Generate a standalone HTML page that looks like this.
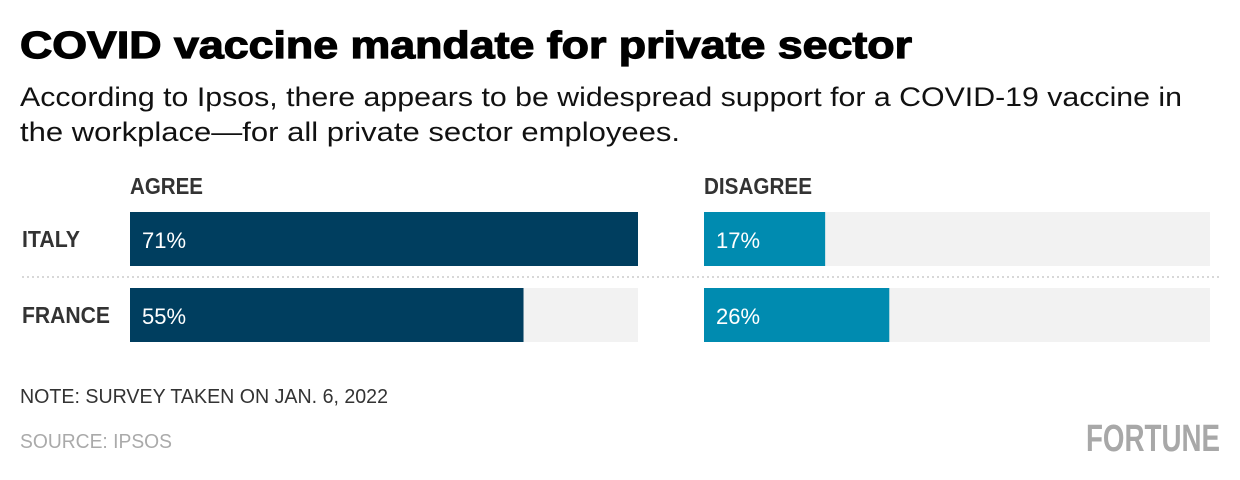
<!DOCTYPE html>
<html><head><meta charset="utf-8"><style>
html,body{margin:0;padding:0;background:#fff}
svg{display:block;font-family:"Liberation Sans",sans-serif}
</style></head><body>
<svg id="chart" width="1240" height="480" viewBox="0 0 1240 480">
<text x="20" y="58" font-size="38" font-weight="bold" stroke="#000" stroke-width="1.2" textLength="892" lengthAdjust="spacingAndGlyphs" fill="#000">COVID vaccine mandate for private sector</text>
<text x="20" y="106" font-size="27" fill="#111" textLength="1162" lengthAdjust="spacingAndGlyphs">According to Ipsos, there appears to be widespread support for a COVID-19 vaccine in</text>
<text x="20" y="141" font-size="27" fill="#111" textLength="660" lengthAdjust="spacingAndGlyphs">the workplace—for all private sector employees.</text>
<text x="130" y="194" font-size="23" font-weight="bold" fill="#333" textLength="73" lengthAdjust="spacingAndGlyphs">AGREE</text>
<text x="704" y="194" font-size="23" font-weight="bold" fill="#333" textLength="108" lengthAdjust="spacingAndGlyphs">DISAGREE</text>
<line x1="22" y1="277" x2="1220" y2="277" stroke="#d8d8d8" stroke-width="2" stroke-dasharray="2,3"/>
<g id="bars"></g>
<text x="20" y="403" font-size="20" fill="#333" textLength="368" lengthAdjust="spacingAndGlyphs">NOTE: SURVEY TAKEN ON JAN. 6, 2022</text>
<text x="20" y="448" font-size="20" fill="#aaa" textLength="152" lengthAdjust="spacingAndGlyphs">SOURCE: IPSOS</text>
<text x="1086" y="451" font-size="38" font-weight="bold" fill="#a8a8a8" textLength="134" lengthAdjust="spacingAndGlyphs">FORTUNE</text>
</svg>
<script>
const countries = ["ITALY", "FRANCE"];
const labelWidths = [58, 88];
const agreeValues = [71, 55];
const disagreeValues = [17, 26];
const NS = "http://www.w3.org/2000/svg";
const g = document.getElementById("bars");
const maxV = Math.max(...agreeValues, ...disagreeValues);
const rowY = i => 212 + i * 76;
const barH = 54;
function mk(tag, attrs){const e=document.createElementNS(NS,tag);for(const k in attrs)e.setAttribute(k,attrs[k]);g.appendChild(e);return e;}
const panels = [{x0:130,w:508,vals:agreeValues,color:"#003e5f",key:"agree"},{x0:704,w:506,vals:disagreeValues,color:"#008bb0",key:"disagree"}];
countries.forEach((c,i)=>{
  const y = rowY(i);
  const lab = mk("text",{x:22,y:y+35,"font-size":23,"font-weight":"bold",fill:"#333",textLength:labelWidths[i],lengthAdjust:"spacingAndGlyphs"});
  lab.textContent = c;
  
  
  panels.forEach(p=>{
    const tr = mk("rect",{x:p.x0,y:y,width:p.w,height:barH,fill:"#f2f2f2"});
    
    
    const bw = p.w * p.vals[i] / maxV;
    const b = mk("rect",{x:p.x0,y:y,width:bw,height:barH,fill:p.color});
    
    
    const t = mk("text",{x:p.x0+12,y:y+36,"font-size":22,fill:"#fff"});
    t.textContent = p.vals[i] + "%";
    
    
  });
});
</script>
</body></html>
